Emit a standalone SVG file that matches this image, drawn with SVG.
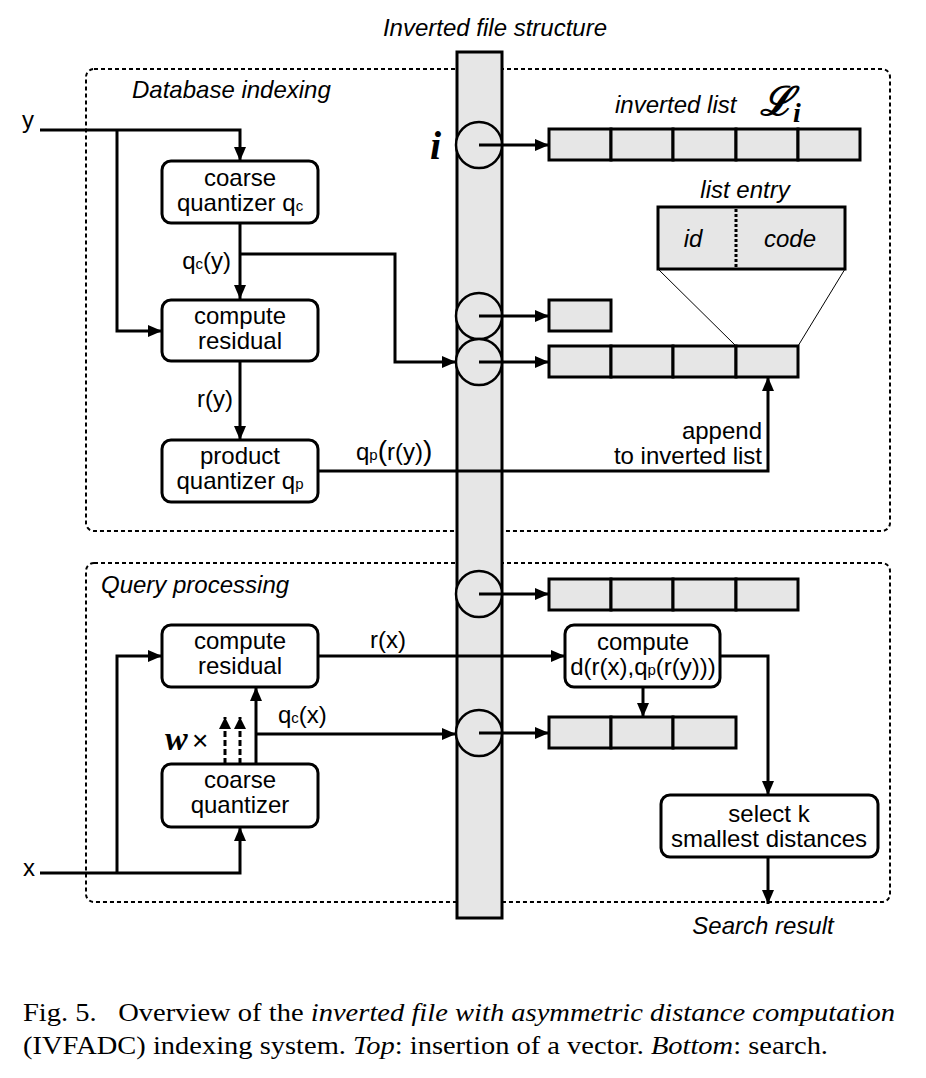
<svg xmlns="http://www.w3.org/2000/svg" width="926" height="1078" viewBox="0 0 926 1078">
<defs>
<marker id="ah" markerUnits="userSpaceOnUse" markerWidth="14" markerHeight="12" refX="14" refY="6" orient="auto"><path d="M0,0 L14,6 L0,12 z" fill="#000"/></marker>
<marker id="ahs" markerUnits="userSpaceOnUse" markerWidth="12" markerHeight="12" refX="12" refY="6" orient="auto"><path d="M0,0 L12,6 L0,12 z" fill="#000"/></marker>
<style>
text{font-family:"Liberation Sans",Arial,sans-serif;font-size:24px;fill:#000}
.it{font-style:italic}
.c{text-anchor:middle}
.e{text-anchor:end}
.sub{font-size:15px}
.box{fill:#fff;stroke:#000;stroke-width:3}
.cell{fill:#e6e6e6;stroke:#000;stroke-width:3}
.grp{fill:none;stroke:#000;stroke-width:2;stroke-dasharray:4 3}
.la{fill:none;stroke:#000;stroke-width:3;marker-end:url(#ah)}
.thin{fill:none;stroke:#000;stroke-width:1}
.circ{fill:#e6e6e6;stroke:#000;stroke-width:2.5}
text.cap{font-family:"Liberation Serif","Times New Roman",serif;font-size:26px}
text.math{font-family:"Liberation Serif","DejaVu Serif",serif;font-style:italic;font-weight:bold}
</style>
</defs>

<g id="groups">
<rect class="grp" x="86" y="69" width="804" height="462" rx="8"/>
<rect class="grp" x="86" y="563" width="804" height="339" rx="8"/>
<text class="it" x="132" y="98">Database indexing</text>
<text class="it" x="101" y="593">Query processing</text>
</g>

<g id="inverted-file">
<text class="it c" x="495" y="36">Inverted file structure</text>
<rect x="457" y="52" width="45" height="866" fill="#e6e6e6" stroke="#000" stroke-width="3"/>
<circle class="circ" cx="479" cy="145" r="23"/>
<circle class="circ" cx="479" cy="316" r="23"/>
<circle class="circ" cx="479" cy="362" r="23"/>
<circle class="circ" cx="479" cy="594" r="23"/>
<circle class="circ" cx="479" cy="733" r="23"/>
<text class="math" x="430" y="159" style="font-size:40px">i</text>
</g>

<g id="list1">
<text class="it" x="615" y="113">inverted list</text>
<text class="math" x="760" y="115" style="font-size:40px">ℒ<tspan style="font-size:28px" dy="7">i</tspan></text>
<rect class="cell" x="549" y="129" width="62" height="31"/>
<rect class="cell" x="611" y="129" width="62" height="31"/>
<rect class="cell" x="673" y="129" width="63" height="31"/>
<rect class="cell" x="736" y="129" width="62" height="31"/>
<rect class="cell" x="798" y="129" width="62" height="31"/>
</g>

<g id="list-entry">
<text class="it c" x="745" y="198">list entry</text>
<rect class="cell" x="658" y="207" width="187" height="62"/>
<line x1="736" y1="209" x2="736" y2="267" stroke="#000" stroke-width="3" stroke-dasharray="3 2"/>
<text class="it c" x="693" y="247">id</text>
<text class="it c" x="790" y="247">code</text>
</g>

<g id="list2">
<rect class="cell" x="549" y="300" width="62" height="31"/>
</g>

<g id="list3">
<rect class="cell" x="549" y="346" width="62" height="31"/>
<rect class="cell" x="611" y="346" width="62" height="31"/>
<rect class="cell" x="673" y="346" width="63" height="31"/>
<rect class="cell" x="736" y="346" width="62" height="31"/>
</g>

<g id="list4">
<rect class="cell" x="549" y="579" width="62" height="31"/>
<rect class="cell" x="611" y="579" width="62" height="31"/>
<rect class="cell" x="673" y="579" width="63" height="31"/>
<rect class="cell" x="736" y="579" width="62" height="31"/>
</g>

<g id="list5">
<rect class="cell" x="549" y="717" width="62" height="31"/>
<rect class="cell" x="611" y="717" width="62" height="31"/>
<rect class="cell" x="673" y="717" width="63" height="31"/>
</g>

<g id="connectors">
<path class="la" d="M40,130 H240 V161"/>
<path class="la" d="M117,130 V331 H162"/>
<path class="la" d="M240,223 V299"/>
<path class="la" d="M240,254 H395 V362 H456"/>
<path class="la" d="M240,362 V440"/>
<path class="la" d="M318,471 H768 V377"/>
<path class="la" d="M479,145 H549"/>
<path class="la" d="M479,316 H549"/>
<path class="la" d="M479,362 H549"/>
<path class="la" d="M479,594 H549"/>
<path class="la" d="M479,733 H549"/>
<path class="thin" d="M658,269 L736,346"/>
<path class="thin" d="M845,269 L798,346"/>
<path class="la" d="M40,873 H240 V827"/>
<path class="la" d="M117,873 V656 H162"/>
<path class="la" d="M256,764 V687"/>
<path class="la" d="M256,734 H456"/>
<path d="M225,764 V717" fill="none" stroke="#000" stroke-width="3" stroke-dasharray="6 3" marker-end="url(#ahs)"/>
<path d="M240,764 V717" fill="none" stroke="#000" stroke-width="3" stroke-dasharray="6 3" marker-end="url(#ahs)"/>
<path class="la" d="M318,656 H565"/>
<path class="la" d="M643,687 V717"/>
<path class="la" d="M720,656 H768 V795"/>
<path class="la" d="M768,857 V904"/>
</g>

<g id="labels">
<text x="22" y="128">y</text>
<text x="23" y="876">x</text>
<text class="e" x="231" y="269">q<tspan class="sub">c</tspan>(y)</text>
<text class="e" x="233" y="407">r(y)</text>
<text x="356" y="460">q<tspan class="sub">p</tspan><tspan style="font-size:28px">(</tspan>r(y)<tspan style="font-size:28px">)</tspan></text>
<text class="e" x="762" y="439">append</text>
<text class="e" x="762" y="464">to inverted list</text>
<text x="370" y="648">r(x)</text>
<text x="278" y="723">q<tspan class="sub">c</tspan>(x)</text>
<text class="math" x="165" y="750" style="font-size:34px">w</text>
<text x="192" y="750" style="font-size:28px">×</text>
<text class="it c" x="763" y="934">Search result</text>
</g>

<g id="coarse-quantizer-db">
<rect class="box" x="162" y="161" width="156" height="62" rx="9"/>
<text class="c" x="240" y="186">coarse</text>
<text class="c" x="240" y="211">quantizer q<tspan class="sub">c</tspan></text>
</g>

<g id="compute-residual-db">
<rect class="box" x="162" y="300" width="156" height="61" rx="9"/>
<text class="c" x="240" y="324">compute</text>
<text class="c" x="240" y="349">residual</text>
</g>

<g id="product-quantizer">
<rect class="box" x="162" y="440" width="156" height="62" rx="9"/>
<text class="c" x="240" y="464">product</text>
<text class="c" x="240" y="489">quantizer q<tspan class="sub">p</tspan></text>
</g>

<g id="compute-residual-q">
<rect class="box" x="162" y="625" width="156" height="62" rx="9"/>
<text class="c" x="240" y="649">compute</text>
<text class="c" x="240" y="674">residual</text>
</g>

<g id="coarse-quantizer-q">
<rect class="box" x="162" y="764" width="156" height="63" rx="9"/>
<text class="c" x="240" y="788">coarse</text>
<text class="c" x="240" y="813">quantizer</text>
</g>

<g id="compute-distance">
<rect class="box" x="565" y="625" width="155" height="62" rx="9"/>
<text class="c" x="643" y="650">compute</text>
<text class="c" x="643" y="675">d(r(x),q<tspan class="sub">p</tspan>(r(y)))</text>
</g>

<g id="select-k">
<rect class="box" x="661" y="795" width="217" height="62" rx="9"/>
<text class="c" x="769" y="822">select k</text>
<text class="c" x="769" y="847">smallest distances</text>
</g>

<g id="caption">
<text class="cap" x="23" y="1021" textLength="872" lengthAdjust="spacingAndGlyphs" xml:space="preserve">Fig. 5.   Overview of the <tspan font-style="italic">inverted file with asymmetric distance computation</tspan></text>
<text class="cap" x="23" y="1054" textLength="805" lengthAdjust="spacingAndGlyphs">(IVFADC) indexing system. <tspan font-style="italic">Top</tspan>: insertion of a vector. <tspan font-style="italic">Bottom</tspan>: search.</text>
</g>
</svg>
